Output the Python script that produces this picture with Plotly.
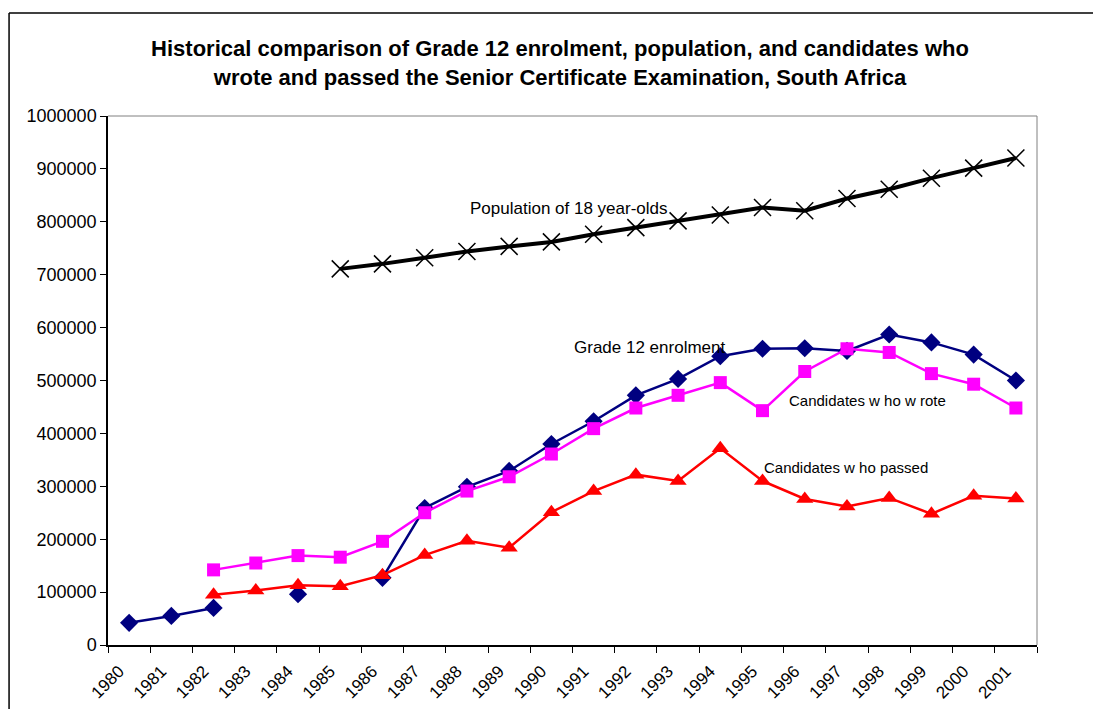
import plotly.graph_objects as go

years = [str(y) for y in range(1980, 2002)]

enrolment = [42000, 55000, 70000, None, 96000, None, 127000, 259000, 299000, 329000,
             380000, 423000, 472000, 503000, 546000, 560000, 561000, 556000, 587000,
             572000, 549000, 500000]
wrote = [None, None, 142000, 155000, 169000, 166000, 196000, 250000, 291000, 318000,
         361000, 409000, 448000, 472000, 496000, 443000, 517000, 560000, 553000,
         513000, 493000, 448000]
passed = [None, None, 95000, 103000, 113000, 111000, 132000, 170000, 197000, 184000,
          251000, 291000, 322000, 310000, 372000, 310000, 276000, 262000, 278000,
          248000, 282000, 277000]
population = [None, None, None, None, None, 711000, 720500, 732000, 744000, 753500,
              762000, 776400, 789000, 801800, 813000, 827000, 821000, 844000, 861500,
              882500, 901500, 920600]

y_ticks = list(range(0, 1000001, 100000))

FONT = "Arial, Liberation Sans, sans-serif"

# The page body has an 8px default margin; the figure is sized to fill the rest of the window.
W, H = 1093, 701

fig = go.Figure()
fig.add_trace(go.Scatter(x=years, y=population, mode="lines+markers", name="Population of 18 year-olds",
                         line=dict(color="black", width=4),
                         marker=dict(symbol="x-thin-open", size=17, color="black", line=dict(width=1.5, color="black"))))
fig.add_trace(go.Scatter(x=years, y=enrolment, mode="lines+markers", name="Grade 12 enrolment",
                         line=dict(color="#000080", width=2.5),
                         marker=dict(symbol="diamond", size=14, color="#000080")))
fig.add_trace(go.Scatter(x=years, y=wrote, mode="lines+markers", name="Candidates who wrote",
                         line=dict(color="#FF00FF", width=2.5),
                         marker=dict(symbol="square", size=13, color="#FF00FF")))
fig.add_trace(go.Scatter(x=years, y=passed, mode="lines+markers", name="Candidates who passed",
                         line=dict(color="#FF0000", width=2.5),
                         marker=dict(symbol="triangle-up", size=15, color="#FF0000")))

big = dict(family=FONT, size=17, color="black")
small = dict(family=FONT, size=15, color="black")
annotations = [
    dict(text="Population of 18 year-olds", xref="paper", yref="y", x=0.3875, y=826000,
         xanchor="left", yanchor="middle", showarrow=False, font=big),
    dict(text="Grade 12 enrolment", xref="paper", yref="y", x=0.4995, y=563000,
         xanchor="left", yanchor="middle", showarrow=False, font=big),
    dict(text="Candidates w ho w rote", xref="paper", yref="y", x=0.731, y=463000,
         xanchor="left", yanchor="middle", showarrow=False, font=small),
    dict(text="Candidates w ho passed", xref="paper", yref="y", x=0.704, y=335000,
         xanchor="left", yanchor="middle", showarrow=False, font=small),
]

shapes = [
    # plot area top and right border
    dict(type="line", xref="paper", yref="paper", x0=0, x1=1, y0=1, y1=1, line=dict(color="#808080", width=1)),
    dict(type="line", xref="paper", yref="paper", x0=1, x1=1, y0=0, y1=1, line=dict(color="#808080", width=1)),
    # outer chart border
    dict(type="line", xref="paper", yref="paper", x0=-0.1065, x1=1.08, y0=1.1947, y1=1.1947, line=dict(color="black", width=1.5)),
    dict(type="line", xref="paper", yref="paper", x0=-0.1065, x1=-0.1065, y0=-0.14, y1=1.1947, line=dict(color="black", width=1.5)),
]

fig.update_layout(
    width=W, height=H,
    margin=dict(l=100, r=64, t=108, b=64, autoexpand=False),
    paper_bgcolor="white", plot_bgcolor="white",
    showlegend=False,
    title=dict(text="Historical comparison of Grade 12 enrolment, population, and candidates who<br>wrote and passed the Senior Certificate Examination, South Africa",
               x=552 / W, xanchor="center", y=1 - 48 / H, yanchor="top", xref="container", yref="container",
               font=dict(family=FONT, size=22, color="black", weight="bold")),
    annotations=annotations,
    shapes=shapes,
    xaxis=dict(type="category", categoryorder="array", categoryarray=years,
               range=[-0.5, len(years) - 0.5],
               showline=True, linecolor="black", linewidth=1.5,
               ticks="outside", tickson="boundaries", ticklen=6, tickcolor="black", tickwidth=1,
               tickangle=-45, tickfont=dict(family=FONT, size=17, color="black"),
               ticklabelstandoff=8, ticklabelshift=-10,
               showgrid=False, zeroline=False),
    yaxis=dict(range=[0, 1000000], tickvals=y_ticks, ticktext=[str(v) for v in y_ticks],
               showline=True, linecolor="black", linewidth=1.5,
               ticks="outside", ticklen=6, tickcolor="black", tickwidth=1,
               tickfont=dict(family=FONT, size=18, color="black"),
               showgrid=False, zeroline=False),
)

fig.write_html("out.html")
